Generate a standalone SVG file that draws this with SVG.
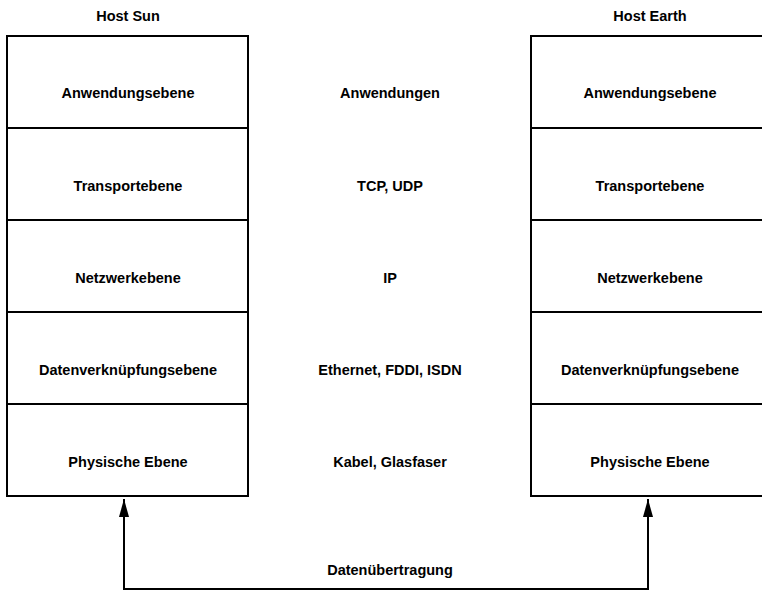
<svg xmlns="http://www.w3.org/2000/svg" width="762" height="591" viewBox="0 0 762 591">
<style>
text{font-family:"Liberation Sans",Arial,Helvetica,sans-serif;font-weight:bold;font-size:14.5px;fill:#000;text-anchor:middle}
.box{fill:none;stroke:#000;stroke-width:2}
.conn{fill:none;stroke:#000;stroke-width:2}
</style>
<defs>
<marker id="arr" viewBox="0 0 10 18" refX="10" refY="5" markerWidth="18" markerHeight="10" markerUnits="userSpaceOnUse" orient="auto">
<path d="M0,0 L18,5 L0,10 z" fill="#000"/>
</marker>
<marker id="ah" viewBox="0 0 18 10" refX="18" refY="5" markerWidth="18" markerHeight="10" markerUnits="userSpaceOnUse" orient="auto">
<path d="M0,0 L18,5 L0,10 z" fill="#000"/>
</marker>
</defs>
<g id="host-sun">
<text x="128" y="21">Host Sun</text>
<rect class="box" x="7" y="36" width="241" height="460"/>
<line class="box" x1="7" y1="128" x2="248" y2="128"/>
<line class="box" x1="7" y1="220" x2="248" y2="220"/>
<line class="box" x1="7" y1="312" x2="248" y2="312"/>
<line class="box" x1="7" y1="404" x2="248" y2="404"/>
<text x="128" y="98">Anwendungsebene</text>
<text x="128" y="191">Transportebene</text>
<text x="128" y="283">Netzwerkebene</text>
<text x="128" y="375">Datenverknüpfungsebene</text>
<text x="128" y="467">Physische Ebene</text>
</g>
<g id="protocols">
<text x="390" y="98">Anwendungen</text>
<text x="390" y="191">TCP, UDP</text>
<text x="390" y="283">IP</text>
<text x="390" y="375">Ethernet, FDDI, ISDN</text>
<text x="390" y="467">Kabel, Glasfaser</text>
</g>
<g id="host-earth">
<text x="650" y="21">Host Earth</text>
<rect class="box" x="531" y="36" width="241" height="460"/>
<line class="box" x1="531" y1="128" x2="772" y2="128"/>
<line class="box" x1="531" y1="220" x2="772" y2="220"/>
<line class="box" x1="531" y1="312" x2="772" y2="312"/>
<line class="box" x1="531" y1="404" x2="772" y2="404"/>
<text x="650" y="98">Anwendungsebene</text>
<text x="650" y="191">Transportebene</text>
<text x="650" y="283">Netzwerkebene</text>
<text x="650" y="375">Datenverknüpfungsebene</text>
<text x="650" y="467">Physische Ebene</text>
</g>
<g id="connectors">
<polyline class="conn" points="124,499 124,589 648,589 648,499" />
<path d="M124,499 L119,517 L129,517 z" fill="#000"/>
<path d="M648,499 L643,517 L653,517 z" fill="#000"/>
<text x="390" y="575">Datenübertragung</text>
</g>
</svg>
